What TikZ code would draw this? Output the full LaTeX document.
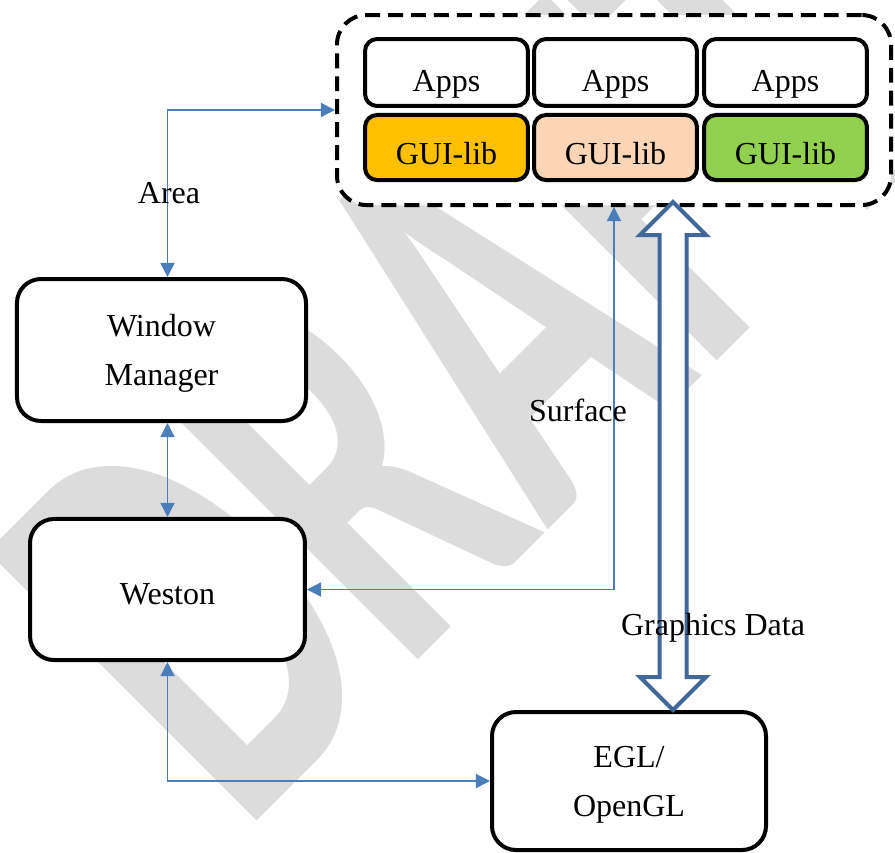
\documentclass[tikz,border=0pt]{standalone}
\usepackage{fontspec}
\setmainfont{Liberation Serif}
\newfontfamily\draftfont{Carlito}
\usepackage{graphicx}
\usetikzlibrary{arrows.meta,calc}

\definecolor{linkblue}{RGB}{74,126,187}
\definecolor{arrowblue}{RGB}{65,104,154}
\definecolor{guigold}{RGB}{255,192,0}
\definecolor{guipeach}{RGB}{251,213,181}
\definecolor{guigreen}{RGB}{146,208,80}
\definecolor{markgray}{RGB}{220,220,220}

\tikzset{
  box/.style={draw, line width=1.5pt, rounded corners=9pt, fill=white, align=center, text depth=0pt},
  appbox/.style={draw, line width=1.5pt, rounded corners=4.5pt, fill=white,
    minimum width=61.1pt, inner sep=0pt, text depth=0pt},
  group/.style={draw, line width=1.5pt, dash pattern=on 5.6pt off 3pt,
    rounded corners=11pt, fill=white, minimum width=207.75pt, minimum height=71.25pt},
  link/.style={draw=linkblue, line width=0.5pt,
    {Triangle[length=5.3pt,width=5.3pt]}-{Triangle[length=5.3pt,width=5.3pt]}},
  bigarrow/.style={draw=arrowblue, line width=1.5pt, fill=white, line join=miter},
}

\begin{document}
\begin{tikzpicture}[x=0.375pt, y=-0.375pt, font=\fontsize{12pt}{18.4pt}\selectfont]

      \useasboundingbox (0,0) rectangle (895,852);
      \clip (0,0) rectangle (895,852);

      % watermark
      \node[markgray, rotate=45, anchor=base west, inner sep=0pt,
        font={\draftfont\bfseries\fontsize{135.8pt}{145pt}\selectfont}] (draft) at (242,836)
        {\scalebox{1}[1.62]{DRAFT}};

      % application group
      \node[group] (grp) at (614,110) {};
      \node[appbox, minimum height=25.1pt, text height=14.5pt] (app1) at (446.5,72.5) {Apps};
      \node[appbox, minimum height=25.1pt, text height=14.5pt] (app2) at (615.5,72.5) {Apps};
      \node[appbox, minimum height=25.1pt, text height=14.5pt] (app3) at (785.5,72.5) {Apps};
      \node[appbox, minimum height=24.4pt, text height=12.4pt, fill=guigold] (gui1) at (446.5,147.5) {GUI-lib};
      \node[appbox, minimum height=24.4pt, text height=12.4pt, fill=guipeach] (gui2) at (615.5,147.5) {GUI-lib};
      \node[appbox, minimum height=24.4pt, text height=12.4pt, fill=guigreen] (gui3) at (785.5,147.5) {GUI-lib};

      % system boxes
      \node[box, minimum width=108.4pt, minimum height=53.25pt] (wm) at (161.5,350) {Window\\Manager};
      \node[box, minimum width=103.1pt, minimum height=52.9pt, text height=10.9pt] (wes) at (167.5,589.5) {Weston};
      \node[box, minimum width=102.75pt, minimum height=51.75pt] (egl) at (629,781) {EGL/\\OpenGL};

      % connectors
      \draw[link] (wm.north -| wes.north) |- (grp.west);
      \draw[link] (wm.south -| wes.north) -- (wes.north);
      \draw[link] (wes.east) -| (grp.south);
      \draw[link] (wes.south) |- (egl.west);

      \coordinate (gtop) at (673,202);
      \coordinate (gbot) at (gtop |- egl.north);
      \draw[bigarrow] (gtop) -- ++(33,33) -- ++(-19.5,0) -- ($(gbot)+(13.5,-33)$) -- ++(19.5,0)
        -- (gbot) -- ++(-33,-33) -- ++(19.5,0) -- ($(gtop)+(-13.5,33)$) -- ++(-19.5,0) -- cycle;

      % labels
      \node (area) at (169,193) {Area};
      \node (surface) at (578,410) {Surface};
      \node (gdata) at (713,628) {Graphics Data};

\end{tikzpicture}
\end{document}
